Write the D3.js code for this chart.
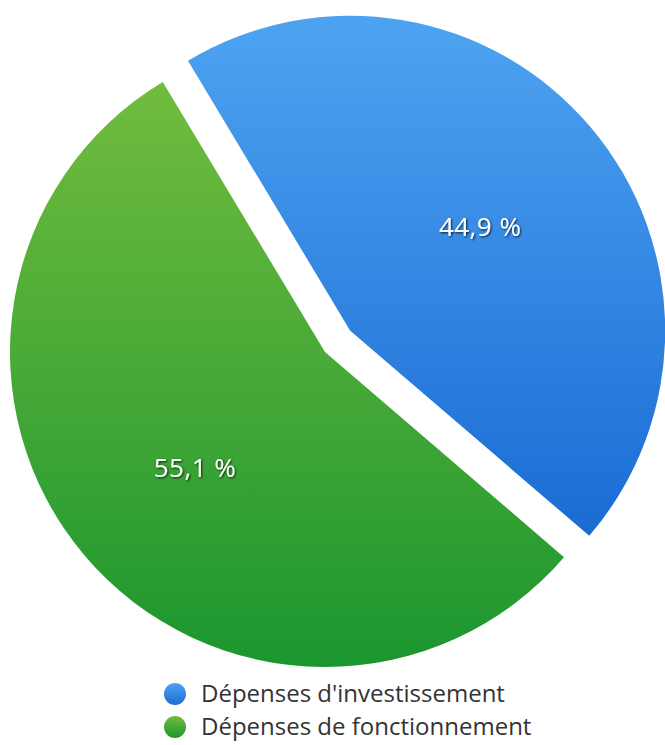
<!DOCTYPE html>
<html>
<head>
<meta charset="utf-8">
<script src="https://cdn.jsdelivr.net/npm/d3@7"></script>
<style>
  html, body { margin: 0; padding: 0; background: #fff; }
  svg { display: block; font-family: "Open Sans", sans-serif; }
</style>
</head>
<body>
<svg id="chart"></svg>
<script>
const categories = ["Dépenses d'investissement", "Dépenses de fonctionnement"];
const values = [44.9, 55.1];
const valueLabels = ["44,9 %", "55,1 %"];
const gradients = [["#4ea3f1", "#1a6cd4"], ["#72bc3e", "#1b962f"]];

const width = 665, height = 745;
const cx = 325, cy = 352, radius = 315, explode = 33;

const svg = d3.select("#chart").attr("width", width).attr("height", height);
const defs = svg.append("defs");

gradients.forEach((g, i) => {
  const lg = defs.append("linearGradient")
    .attr("id", "grad" + i)
    .attr("x1", 0).attr("y1", 0).attr("x2", 0).attr("y2", 1);
  lg.append("stop").attr("offset", "0%").attr("stop-color", g[0]);
  lg.append("stop").attr("offset", "100%").attr("stop-color", g[1]);
});

const shadow = defs.append("filter").attr("id", "txtShadow")
  .attr("x", "-20%").attr("y", "-30%").attr("width", "140%").attr("height", "160%");
shadow.append("feDropShadow")
  .attr("dx", 1).attr("dy", 1).attr("stdDeviation", 1.3)
  .attr("flood-color", "#000").attr("flood-opacity", 0.8);

const startDeg = -31;
const pie = d3.pie().sort(null)
  .startAngle(startDeg * Math.PI / 180)
  .endAngle((startDeg + 360) * Math.PI / 180);
const arc = d3.arc().innerRadius(0).outerRadius(radius);
const labelArc = d3.arc().innerRadius(radius * 0.54).outerRadius(radius * 0.54);

const arcs = pie(values);

const g = svg.append("g").attr("transform", `translate(${cx},${cy})`);

const slices = g.selectAll("g.slice")
  .data(arcs)
  .enter()
  .append("g")
  .attr("class", "slice")
  .attr("transform", (d, i) => {
    if (i !== 0) return null;
    const mid = (d.startAngle + d.endAngle) / 2;
    return `translate(${Math.sin(mid) * explode},${-Math.cos(mid) * explode})`;
  });

slices.append("path")
  .attr("d", arc)
  .attr("fill", (d, i) => `url(#grad${i})`);

slices.append("text")
  .attr("transform", d => {
    const [x, y] = labelArc.centroid(d);
    return `translate(${x},${y + 6})`;
  })
  .attr("text-anchor", "middle")
  .attr("dy", "0.35em")
  .attr("fill", "#fff")
  .attr("filter", "url(#txtShadow)")
  .style("font-size", "26px")
  .style("letter-spacing", "0.5px")
  .text((d, i) => valueLabels[i]);

const legend = svg.append("g").attr("transform", "translate(175,694)");
const item = legend.selectAll("g")
  .data(categories)
  .enter()
  .append("g")
  .attr("transform", (d, i) => `translate(0,${i * 33})`);

item.append("circle")
  .attr("r", 11)
  .attr("fill", (d, i) => `url(#grad${i})`);

item.append("text")
  .attr("x", 26)
  .attr("dy", "0.35em")
  .attr("fill", "#333")
  .style("font-size", "24px")
  .text(d => d);
</script>
</body>
</html>
